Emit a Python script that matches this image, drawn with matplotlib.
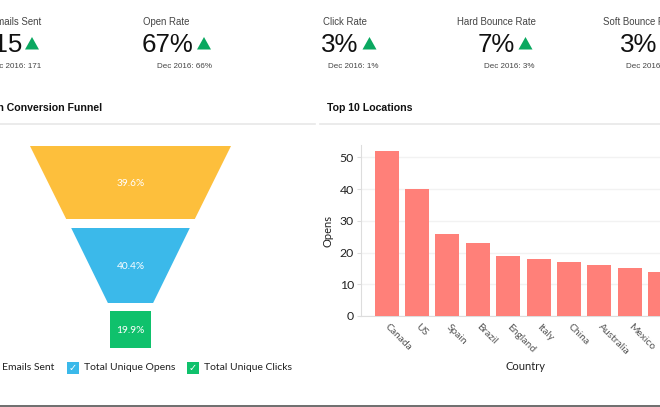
import matplotlib
matplotlib.use("Agg")
import matplotlib.pyplot as plt
from matplotlib.patches import Polygon, Rectangle

W, H = 660, 407

# kpi row
kpi_labels = ["Emails Sent", "Open Rate", "Click Rate", "Hard Bounce Rate", "Soft Bounce Rate"]
kpi_values = ["115", "67%", "3%", "7%", "3%"]
kpi_previous = ["Dec 2016: 171", "Dec 2016: 66%", "Dec 2016: 1%", "Dec 2016: 3%", "Dec 2016: 3%"]

# funnel: top and bottom width of each stage, percent of the first stage
funnel_names = ["Total Emails Sent", "Total Unique Opens", "Total Unique Clicks"]
funnel_share = ["39.6%", "40.4%", "19.9%"]
funnel_top = [100, 59, 20]
funnel_bottom = [64, 22.5, 20]

# bars
countries = ["Canada", "US", "Spain", "Brazil", "England", "Italy", "China", "Australia", "Mexico", ""]
opens = [52, 40, 26, 23, 19, 18, 17, 16, 15, 14]

body_font = "Lato"
kpi_font = "Liberation Sans"
text_dark = "#222222"
text_mid = "#444444"
green_up = "#0aa860"
funnel_colors = ["#fdbf3c", "#3bb9ea", "#0fc16c"]

fig = plt.figure(figsize=(W / 100, H / 100), dpi=100)

# overlay in pixel coordinates for the dashboard furniture
bg = fig.add_axes([0, 0, 1, 1])
bg.set_xlim(0, W)
bg.set_ylim(H, 0)
bg.axis("off")

label_x = [-10, 143, 323, 457, 603]
value_right = [22, 193, 358.5, 515, 657]
arrow_x = [32, 204, 369.5, 525.5, 668]
prev_right = [41, 212, 378, 534, 677]
for i in range(5):
    bg.text(label_x[i], 25, kpi_labels[i], family=kpi_font, fontsize=6.9, color=text_mid)
    bg.text(value_right[i], 52, kpi_values[i], family=kpi_font, fontsize=18.6, color="#111111", ha="right")
    bg.text(prev_right[i], 68, kpi_previous[i], family=kpi_font, fontsize=5.8, color=text_mid, ha="right")
    c = arrow_x[i]
    bg.add_patch(Polygon([(c - 7, 49.5), (c + 7, 49.5), (c, 37)], fc=green_up, ec="none"))

bg.text(102, 111, "Campaign Conversion Funnel", family=kpi_font, fontsize=7.6, weight="bold", color="#111111", ha="right")
bg.text(327, 111, "Top 10 Locations", family=kpi_font, fontsize=7.6, weight="bold", color="#111111")
bg.plot([0, 315], [124, 124], color="#e8e8e8", lw=1.2)
bg.plot([320, 660], [124, 124], color="#e8e8e8", lw=1.2)
bg.plot([0, 660], [406, 406], color="#555555", lw=1.2)

# funnel
cx = 130.5
unit = 2.01
stage_y = [(146, 219), (228, 303), (311, 348)]
for i in range(3):
    y0, y1 = stage_y[i]
    t = funnel_top[i] * unit / 2
    b = funnel_bottom[i] * unit / 2
    bg.add_patch(Polygon([(cx - t, y0), (cx + t, y0), (cx + b, y1), (cx - b, y1)], fc=funnel_colors[i], ec="none"))
    bg.text(cx, (y0 + y1) / 2 + 1, funnel_share[i], family=body_font, fontsize=7.3, color="white", ha="center", va="center")

# funnel legend
box_x = [-40, 67, 187]
for i in range(3):
    bg.add_patch(Rectangle((box_x[i], 362), 11.5, 11.5, fc=funnel_colors[i], ec="none"))
    bg.text(box_x[i] + 5.7, 368, "\u2713", family="DejaVu Sans", fontsize=7, color="white", ha="center", va="center")
    bg.text(box_x[i] + 16.5, 367.5, funnel_names[i], family=body_font, fontsize=7.5, color=text_dark, va="center")

# bar chart
left, right, top, bottom = 361, 660, 145, 316
ax = fig.add_axes([left / W, 1 - bottom / H, (right - left) / W, (bottom - top) / H])
ax.bar(range(len(opens)), opens, width=0.79, color="#ff8079", zorder=3)
ax.set_xlim(-0.848, 8.83)
ax.set_ylim(0, 53.9)
ax.set_yticks([0, 10, 20, 30, 40, 50])
ax.grid(axis="y", color="#f2f2f2", lw=1, zorder=0)
ax.set_xticks(range(len(countries)))
ax.set_xticklabels(countries, rotation=-45, ha="left", va="center", rotation_mode="anchor", family=body_font, fontsize=7.4, color="#555555")
for t in ax.get_yticklabels():
    t.set_family(body_font)
ax.tick_params(axis="x", length=0, pad=7)
ax.tick_params(axis="y", length=3, color="#dddddd", labelsize=8.8, labelcolor=text_dark, pad=2)
for s in ["top", "right"]:
    ax.spines[s].set_visible(False)
for s in ["left", "bottom"]:
    ax.spines[s].set_color("#dddddd")
ax.set_xlabel("Country", family=body_font, fontsize=8, color=text_dark)
ax.set_ylabel("Opens", family=body_font, fontsize=8, color=text_dark)
ax.xaxis.set_label_coords((525 - left) / (right - left), (bottom - 367) / (bottom - top))
ax.yaxis.set_label_coords((328.5 - left) / (right - left), (bottom - 231) / (bottom - top))
ax.xaxis.label.set_va("center")
ax.yaxis.label.set_va("center")

fig.savefig("out.png", dpi=100)
